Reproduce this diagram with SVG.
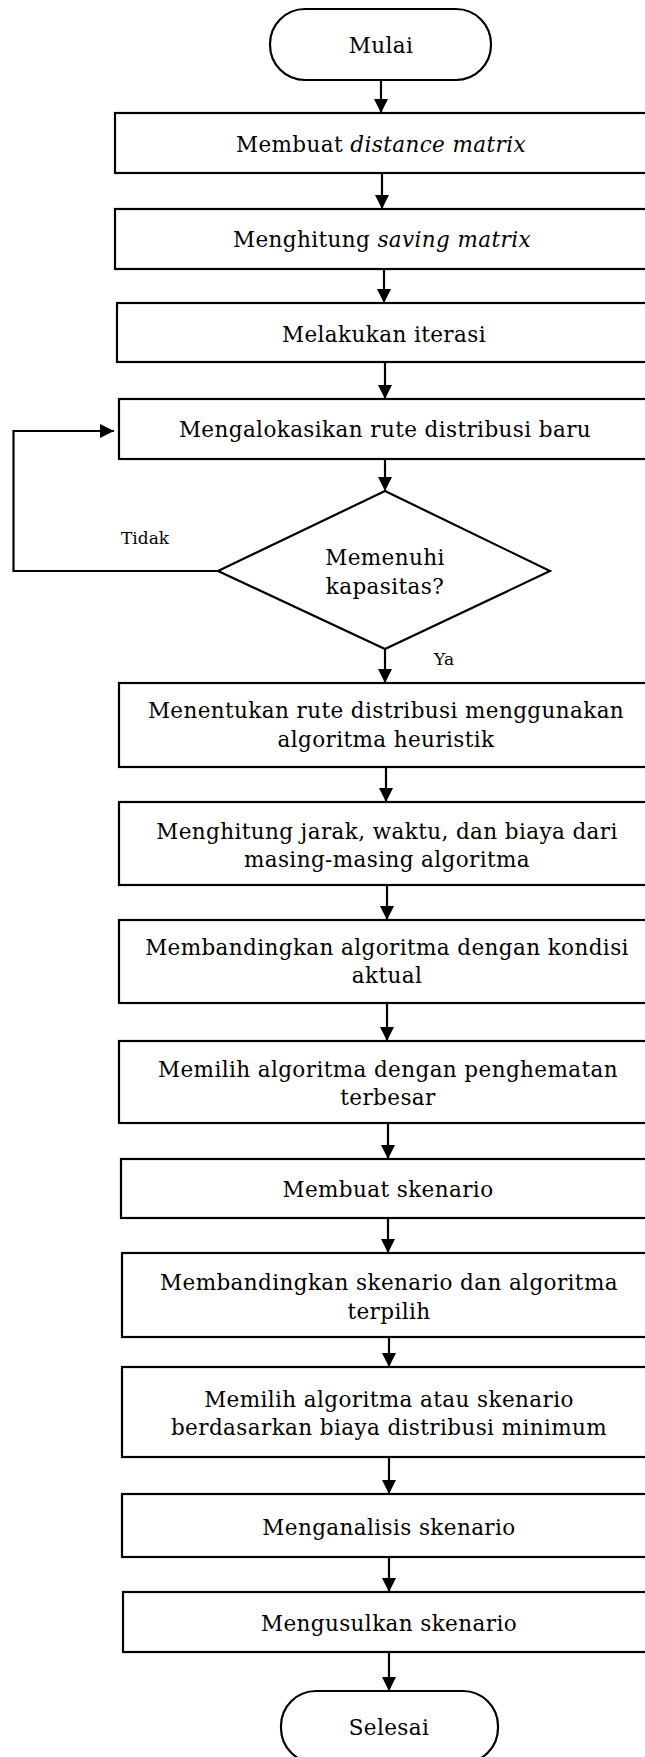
<svg xmlns="http://www.w3.org/2000/svg" width="645" height="1757" viewBox="0 0 645 1757">
<style>
.n{fill:#fff;stroke:#000;stroke-width:2.2}
.t{font-family:"DejaVu Serif","Liberation Serif",serif;font-size:21.5px;letter-spacing:0.4px;fill:#000;text-anchor:middle}
.l{font-family:"DejaVu Serif","Liberation Serif",serif;font-size:17px;fill:#000}
.c{fill:none;stroke:#000;stroke-width:2.2}
</style>
<defs>
<marker id="ah" viewBox="0 0 10 10" refX="10" refY="5" markerUnits="userSpaceOnUse" markerWidth="15" markerHeight="14" orient="auto">
<path d="M0,0 L10,5 L0,10 z" fill="#000"/>
</marker>
</defs>
<rect width="645" height="1757" fill="#fff"/>
<g id="connectors">
<line class="c" x1="381" y1="80" x2="381" y2="113" marker-end="url(#ah)"/>
<line class="c" x1="382" y1="173" x2="382" y2="209" marker-end="url(#ah)"/>
<line class="c" x1="384" y1="269" x2="384" y2="303" marker-end="url(#ah)"/>
<line class="c" x1="385" y1="362" x2="385" y2="399" marker-end="url(#ah)"/>
<line class="c" x1="385" y1="459" x2="385" y2="491" marker-end="url(#ah)"/>
<line class="c" x1="385" y1="649" x2="385" y2="683" marker-end="url(#ah)"/>
<polyline class="c" points="218,571 13.5,571 13.5,431 114,431" marker-end="url(#ah)"/>
<line class="c" x1="386" y1="767" x2="386" y2="802" marker-end="url(#ah)"/>
<line class="c" x1="387" y1="885" x2="387" y2="920" marker-end="url(#ah)"/>
<line class="c" x1="387" y1="1003" x2="387" y2="1041" marker-end="url(#ah)"/>
<line class="c" x1="388" y1="1123" x2="388" y2="1159" marker-end="url(#ah)"/>
<line class="c" x1="388" y1="1218" x2="388" y2="1253" marker-end="url(#ah)"/>
<line class="c" x1="389" y1="1337" x2="389" y2="1367" marker-end="url(#ah)"/>
<line class="c" x1="389" y1="1457" x2="389" y2="1494" marker-end="url(#ah)"/>
<line class="c" x1="389" y1="1557" x2="389" y2="1592" marker-end="url(#ah)"/>
<line class="c" x1="389" y1="1652" x2="389" y2="1691" marker-end="url(#ah)"/>
<text class="l" x="121" y="544">Tidak</text>
<text class="l" x="434" y="665">Ya</text>
</g>
<g id="start">
<rect class="n" x="270" y="9" width="221" height="71" rx="35" ry="35"/>
<text class="t" x="381" y="53">Mulai</text>
</g>
<g id="step1">
<rect class="n" x="115" y="113" width="560" height="60"/>
<text class="t" x="381" y="152">Membuat <tspan font-style="italic">distance matrix</tspan></text>
</g>
<g id="step2">
<rect class="n" x="115" y="209" width="560" height="60"/>
<text class="t" x="382" y="247">Menghitung <tspan font-style="italic">saving matrix</tspan></text>
</g>
<g id="step3">
<rect class="n" x="117" y="303" width="560" height="59"/>
<text class="t" x="384" y="342">Melakukan iterasi</text>
</g>
<g id="step4">
<rect class="n" x="119" y="399" width="560" height="60"/>
<text class="t" x="385" y="437">Mengalokasikan rute distribusi baru</text>
</g>
<g id="decision">
<polygon class="n" points="385,491 550,571 385,649 218,571"/>
<text class="t" x="385" y="565">Memenuhi</text>
<text class="t" x="385" y="594">kapasitas?</text>
</g>
<g id="step5">
<rect class="n" x="119" y="683" width="560" height="84"/>
<text class="t" x="386" y="718">Menentukan rute distribusi menggunakan</text>
<text class="t" x="386" y="747">algoritma heuristik</text>
</g>
<g id="step6">
<rect class="n" x="119" y="802" width="560" height="83"/>
<text class="t" x="387" y="839">Menghitung jarak, waktu, dan biaya dari</text>
<text class="t" x="387" y="867">masing-masing algoritma</text>
</g>
<g id="step7">
<rect class="n" x="119" y="920" width="560" height="83"/>
<text class="t" x="387" y="955">Membandingkan algoritma dengan kondisi</text>
<text class="t" x="387" y="983">aktual</text>
</g>
<g id="step8">
<rect class="n" x="119" y="1041" width="560" height="82"/>
<text class="t" x="388" y="1077">Memilih algoritma dengan penghematan</text>
<text class="t" x="388" y="1105">terbesar</text>
</g>
<g id="step9">
<rect class="n" x="121" y="1159" width="560" height="59"/>
<text class="t" x="388" y="1197">Membuat skenario</text>
</g>
<g id="step10">
<rect class="n" x="122" y="1253" width="560" height="84"/>
<text class="t" x="389" y="1290">Membandingkan skenario dan algoritma</text>
<text class="t" x="389" y="1319">terpilih</text>
</g>
<g id="step11">
<rect class="n" x="122" y="1367" width="560" height="90"/>
<text class="t" x="389" y="1407">Memilih algoritma atau skenario</text>
<text class="t" x="389" y="1435">berdasarkan biaya distribusi minimum</text>
</g>
<g id="step12">
<rect class="n" x="122" y="1494" width="560" height="63"/>
<text class="t" x="389" y="1535">Menganalisis skenario</text>
</g>
<g id="step13">
<rect class="n" x="123" y="1592" width="560" height="60"/>
<text class="t" x="389" y="1631">Mengusulkan skenario</text>
</g>
<g id="end">
<rect class="n" x="281" y="1691" width="217" height="72" rx="35" ry="35"/>
<text class="t" x="389" y="1735">Selesai</text>
</g>
</svg>
